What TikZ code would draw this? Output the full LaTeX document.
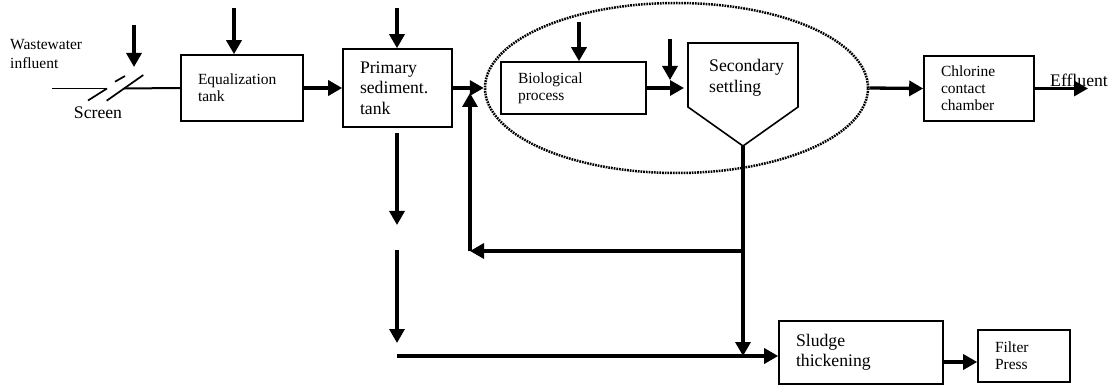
\documentclass[tikz,border=0pt]{standalone}
\usepackage{fontspec}
\setmainfont{Liberation Serif}
\usetikzlibrary{arrows.meta,shapes.geometric}
\newcommand{\txtS}{\fontsize{15.5pt}{17pt}\selectfont}
\newcommand{\txtL}{\fontsize{17.7pt}{20.5pt}\selectfont}
\begin{document}
\begin{tikzpicture}[x=1pt,y=-1pt,
  box/.style={draw, line width=1.6pt, inner xsep=17pt, inner ysep=0pt, align=left},
  arr/.style={line width=3.3pt, -{Triangle[length=14pt,width=15pt]}},
  outline/.style={line width=1.6pt},
  lbl/.style={inner sep=0pt, align=left}
]
\useasboundingbox (0,0) rectangle (1112,385);

% dotted grouping ellipse
\node[ellipse, draw, line width=2.5pt, dash pattern=on 1.7pt off 1.0pt,
      minimum width=383pt, minimum height=170pt, inner sep=0pt] (grp) at (676.5,88) {};

% boxes
\node[box, font=\txtS, text width=88pt, minimum height=66pt] (eq) at (242,88) {Equalization\\tank};
\node[box, font=\txtL, text width=75pt, minimum height=78pt] (prim) at (397.5,88) {Primary\\sediment.\\tank};
\node[box, font=\txtS, text width=111pt, minimum height=52pt] (bio) at (573.5,88) {Biological\\process};
\node[box, font=\txtS, text width=76pt, minimum height=65pt] (chl) at (979,88.5) {Chlorine\\contact\\chamber};
\node[box, font=\txtL, text width=130pt, minimum height=63pt] (thk) at (861,352.5) {Sludge\\thickening};
\node[box, font=\txtS, text width=58pt, minimum height=52pt] (fp) at (1024,356) {Filter\\Press};

% secondary settling tank (pentagon)
\draw[outline] (688,43) -- (798,43) -- (798,107) -- (743,146) -- (688,107) -- cycle;
\coordinate (secbot) at (743,146);
\node[lbl, font=\txtL, anchor=west] (sectxt) at (709,78) {Secondary\\settling};

% influent and screen
\node[lbl, font=\txtS, anchor=west] (wtxt) at (10,54) {Wastewater\\[1.5pt]influent};
\coordinate (inl) at (52,88.5);
\coordinate (scrA) at (107,88.5);
\coordinate (scrB) at (124,88.5);
\draw[line width=0.9pt] (inl) -- (scrA);
\draw[line width=1.7pt] (88,100.5) -- (scrA);
\draw[line width=1.7pt] (115,81.7) -- (125,76);
\draw[line width=1.7pt] (106.7,100.7) -- (143.3,75);
\draw[line width=2pt] (scrB) -- (eq.west);
\node[lbl, font=\txtL, anchor=base] (scrtxt) at (98,119) {Screen};
\coordinate (s0) at (134,25);
\coordinate (s1) at (134,67);
\draw[arr] (s0) -- (s1);

% main line
\coordinate (eqin) at (234,8);
\draw[arr] (eqin) -- (eqin |- eq.north);
\draw[arr] (eq.east) -- (prim.west);
\coordinate (prin) at (397,8);
\draw[arr] (prin) -- (prin |- prim.north);
\draw[arr] (prim.east) -- (grp.west);
\coordinate (bioin) at (579,22);
\draw[arr] (bioin) -- (bioin |- bio.north);
\coordinate (sa) at (670,39);
\coordinate (sb) at (670,80);
\draw[arr] (sa) -- (sb);
\coordinate (secin) at (684,88);
\draw[arr] (bio.east) -- (secin);
\draw[arr] (grp.east) -- (chl.west);
\node[lbl, font=\txtL, anchor=base west] (efftxt) at (1050,86.7) {Effluent};
\coordinate (eff) at (1088,88.5);
\draw[arr] (chl.east) -- (eff);

% primary sludge line
\coordinate (p1) at (397,133);
\coordinate (p2) at (397,225);
\coordinate (p3) at (397,250);
\coordinate (p4) at (397,343);
\coordinate (p5) at (397,356);
\draw[arr] (p1) -- (p2);
\draw[arr] (p3) -- (p4);
\draw[arr] (p5) -- (p5 -| thk.west);

% secondary sludge and return
\coordinate (r1) at (743,251);
\coordinate (r2) at (470,251);
\coordinate (r3) at (470,93);
\draw[arr] (secbot) -- (secbot |- p5);
\draw[arr] (r1) -- (r2);
\draw[arr] (r2) -- (r3);

% sludge to filter press
\coordinate (t1) at (943,362);
\draw[arr] (thk.east |- t1) -- (fp.west |- t1);
\end{tikzpicture}
\end{document}
